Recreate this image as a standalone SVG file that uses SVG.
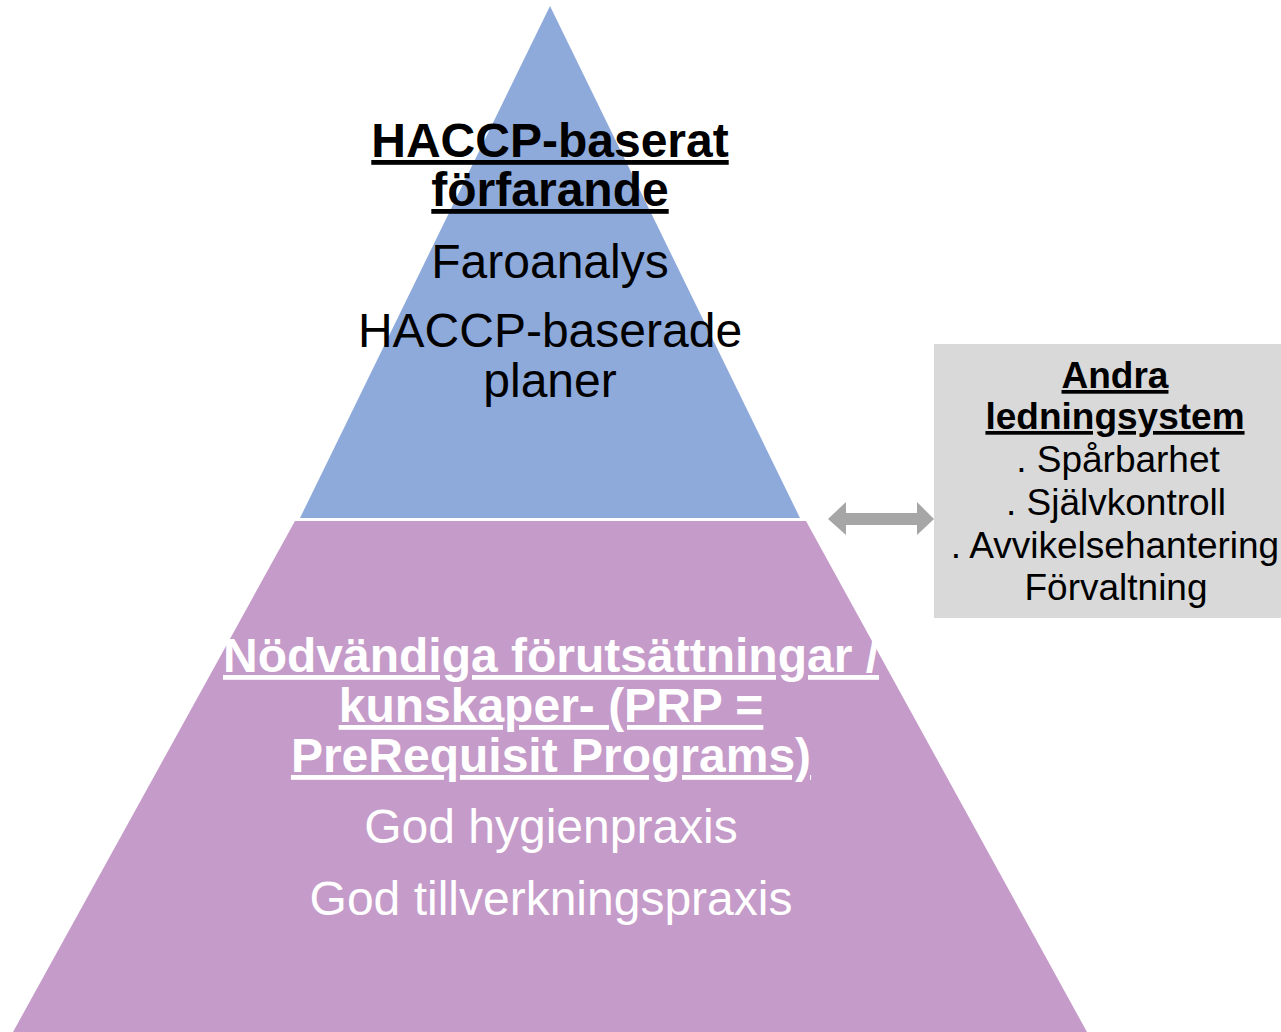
<svg xmlns="http://www.w3.org/2000/svg" width="1281" height="1032" viewBox="0 0 1281 1032">
<style>
text{font-family:"Liberation Sans",Arial,sans-serif;text-anchor:middle}
.big{font-size:48px}
.b{font-weight:bold;text-decoration:underline}
.dark{fill:#000}
.light{fill:#fff}
.side{font-size:37px}
</style>
<rect width="1281" height="1032" fill="#fff"/>
<g id="haccp">
<polygon points="550,6 800,518 300,518" fill="#8eaadb"/>
<text class="big b dark" x="550" y="157">HACCP-baserat</text>
<text class="big b dark" x="550" y="206">förfarande</text>
<text class="big dark" x="550" y="278">Faroanalys</text>
<text class="big dark" x="550" y="347">HACCP-baserade</text>
<text class="big dark" x="550" y="397">planer</text>
</g>
<g id="prp">
<polygon points="295,521 806,521 1087,1032 13,1032" fill="#c59bc9"/>
<text class="big b light" x="551" y="672">Nödvändiga förutsättningar /</text>
<text class="big b light" x="551" y="722">kunskaper- (PRP =</text>
<text class="big b light" x="551" y="772">PreRequisit Programs)</text>
<text class="big light" x="551" y="843">God hygienpraxis</text>
<text class="big light" x="551" y="915">God tillverkningspraxis</text>
</g>
<g id="andra">
<rect x="934" y="344" width="347" height="274" fill="#d9d9d9"/>
<text class="side b dark" x="1115" y="388">Andra</text>
<text class="side b dark" x="1115" y="429">ledningsystem</text>
<text class="side dark" x="1118" y="472">. Spårbarhet</text>
<text class="side dark" x="1116" y="515">. Självkontroll</text>
<text class="side dark" x="1115" y="558">. Avvikelsehantering</text>
<text class="side dark" x="1116" y="600">Förvaltning</text>
</g>
<g id="connectors">
<polygon points="828,519 846,502 846,513 917,513 917,502 934,519 917,535 917,525 846,525 846,535" fill="#a6a6a6"/>
</g>
</svg>
